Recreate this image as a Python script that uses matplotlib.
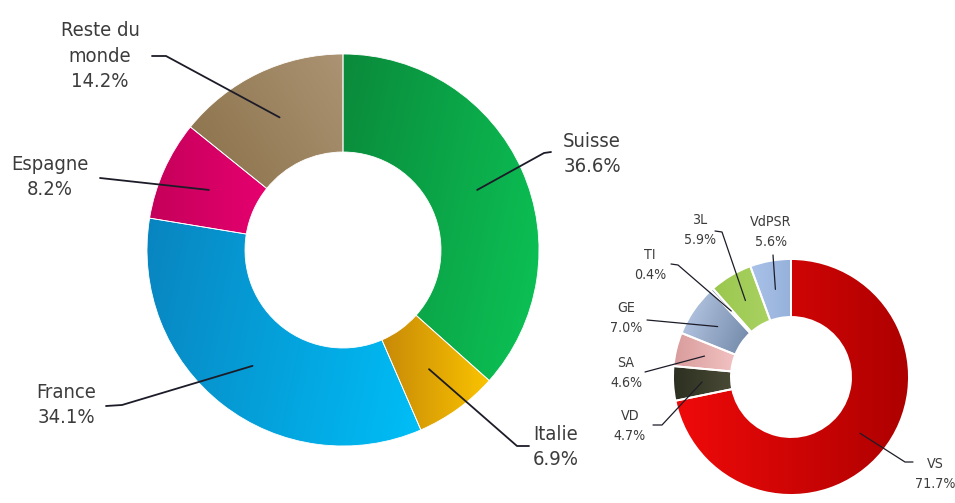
import matplotlib
matplotlib.use("Agg")
import matplotlib.pyplot as plt
import numpy as np
from matplotlib.colors import LinearSegmentedColormap

plt.rcParams['font.family'] = ['DejaVu Sans']
plt.rcParams['font.stretch'] = 'condensed'

# big donut: origin of the respondents
pays = ["Suisse", "Italie", "France", "Espagne", "Reste du\nmonde"]
pays_pct = [36.6, 6.9, 34.1, 8.2, 14.2]
pays_grad = [("#0a8a3b", "#0cc456", -20), ("#c88a08", "#fac300", 0),
             ("#0985c0", "#00bef7", -10), ("#c5005a", "#e6006f", 0),
             ("#8a7149", "#ab9373", 30)]
# where each label sits (pixels) and the elbow of its leader
pays_lab = [(592, 154), (556, 447), (66, 405), (50, 177), (100, 56)]
pays_elb = [[(551, 152), (544, 153)], [(529, 446), (517, 446)],
            [(106, 406), (122, 405)], [(100, 178)], [(152, 56), (166, 56)]]

# small donut: swiss breakdown
cantons = ["VS", "VD", "SA", "GE", "TI", "3L", "VdPSR"]
cantons_pct = [71.7, 4.7, 4.6, 7.0, 0.4, 5.9, 5.6]
cantons_grad = [("#f00a0a", "#ae0000", 0), ("#2c3020", "#4a4a36", 0),
                ("#d99c9c", "#f2c2c2", 0), ("#bccde9", "#6f86a6", -20),
                ("#8898b8", "#8898b8", 0), ("#9bc74e", "#a9d262", 0),
                ("#aac2ea", "#96b2da", 0)]
cantons_lab = [(935, 474), (630, 426), (626, 373), (626, 318),
               (650, 265), (700, 230), (771, 232)]
cantons_elb = [[(913, 462), (905, 462)], [(653, 425), (662, 425)],
               [(645, 372)], [(647, 320)], [(671, 264), (678, 265)],
               [(715, 231), (722, 232)], [(773, 255)]]

W, H = 955, 503


def fill_gradient(ax, wedge, c1, c2, angle):
    bb = wedge.get_path().get_extents()
    g = np.linspace(0, 1, 80)
    X, Y = np.meshgrid(g, g)
    a = np.deg2rad(angle)
    t = X * np.cos(a) + Y * np.sin(a)
    t = (t - t.min()) / (t.max() - t.min() + 1e-9)
    cmap = LinearSegmentedColormap.from_list("g", [c1, c2])
    im = ax.imshow(t, cmap=cmap, extent=[bb.x0, bb.x1, bb.y0, bb.y1],
                   origin="lower", aspect="auto", interpolation="bilinear",
                   zorder=2)
    im.set_clip_path(wedge)


def donut(ax, values, grads, labels, lab_pos, elbows, center, R, r,
          edge, fs, lw, lsp):
    cx, cy = center[0], H - center[1]
    wedges, _ = ax.pie(values, radius=R, center=(cx, cy), startangle=90,
                       counterclock=False,
                       wedgeprops=dict(width=R - r, facecolor="none",
                                       edgecolor="white", linewidth=edge))
    for w, (c1, c2, ang) in zip(wedges, grads):
        w.set_zorder(3)
        fill_gradient(ax, w, c1, c2, ang)
    mid = (R + r) / 2
    for w, lab, v, (lx, ly), elb in zip(wedges, labels, values, lab_pos, elbows):
        ang = np.deg2rad((w.theta1 + w.theta2) / 2)
        px, py = cx + mid * np.cos(ang), cy + mid * np.sin(ang)
        xs = [e[0] for e in elb] + [px]
        ys = [H - e[1] for e in elb] + [py]
        ax.plot(xs, ys, color="#1c1c28", lw=lw, zorder=4,
                solid_capstyle="round")
        ax.text(lx, H - ly, f"{lab}\n{v:.1f}%", ha="center", va="center",
                fontsize=fs, color="#3c3c3c", linespacing=lsp, zorder=5,
                fontstretch="condensed")


fig = plt.figure(figsize=(W / 100, H / 100), dpi=100)
ax = fig.add_axes([0, 0, 1, 1])

donut(ax, pays_pct, pays_grad, pays, pays_lab, pays_elb,
      (343, 250), 196, 98, 0.6, 14.5, 1.3, 1.45)
donut(ax, cantons_pct, cantons_grad, cantons, cantons_lab, cantons_elb,
      (791, 377), 118, 60, 1.4, 10.2, 0.9, 1.5)

ax.set_xlim(0, W)
ax.set_ylim(0, H)
ax.set_aspect("equal")
ax.axis("off")
fig.savefig("out.png", dpi=100, facecolor="white")
